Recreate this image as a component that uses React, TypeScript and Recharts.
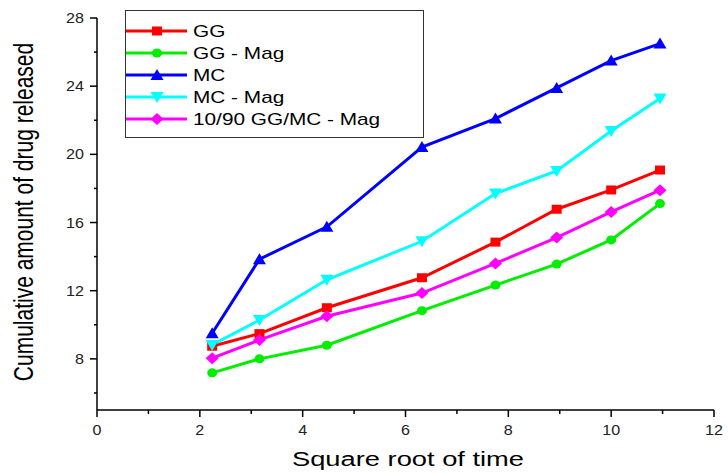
import { Label, Legend, Line, LineChart, XAxis, YAxis } from "recharts";

// square root of time for each sampling point
const rootTime = [2.24, 3.16, 4.47, 6.32, 7.75, 8.94, 10, 10.95];

const gg = [8.74, 9.48, 11.0, 12.76, 14.85, 16.78, 17.91, 19.08];
const ggMag = [7.18, 8.0, 8.8, 10.83, 12.33, 13.56, 14.98, 17.11];
const mc = [9.5, 13.85, 15.75, 20.43, 22.1, 23.9, 25.5, 26.5];
const mcMag = [8.82, 10.28, 12.64, 14.9, 17.7, 19.03, 21.37, 23.28];
const blendMag = [8.04, 9.11, 10.5, 11.86, 13.6, 15.12, 16.62, 17.9];

const xTicks = [0, 1, 2, 3, 4, 5, 6, 7, 8, 9, 10, 11, 12];
const yTicks = [6, 8, 10, 12, 14, 16, 18, 20, 22, 24, 26, 28];

const series = [
  { key: "gg", name: "GG", color: "#ff0000", shape: "square", values: gg },
  { key: "ggMag", name: "GG - Mag", color: "#00ee00", shape: "circle", values: ggMag },
  { key: "mc", name: "MC", color: "#0000ff", shape: "up", values: mc },
  { key: "mcMag", name: "MC - Mag", color: "#00ffff", shape: "down", values: mcMag },
  { key: "blendMag", name: "10/90 GG/MC - Mag", color: "#ff00ff", shape: "diamond", values: blendMag },
];

const data = rootTime.map((x, i) => {
  const row: Record<string, number> = { x };
  series.forEach((s) => (row[s.key] = s.values[i]));
  return row;
});

const FONT = "'Liberation Sans', Arial, sans-serif";

function Marker({ shape, cx, cy, color }: { shape: string; cx: number; cy: number; color: string }) {
  if (cx == null || cy == null) return null;
  switch (shape) {
    case "square":
      return <rect x={cx - 5} y={cy - 4.5} width={10} height={9} fill={color} />;
    case "circle":
      return <ellipse cx={cx} cy={cy} rx={5} ry={4.5} fill={color} />;
    case "up":
      return <polygon points={`${cx},${cy - 6} ${cx + 6.5},${cy + 5} ${cx - 6.5},${cy + 5}`} fill={color} />;
    case "down":
      return <polygon points={`${cx - 6.5},${cy - 5} ${cx + 6.5},${cy - 5} ${cx},${cy + 6}`} fill={color} />;
    default:
      return <polygon points={`${cx},${cy - 6} ${cx + 6.5},${cy} ${cx},${cy + 6} ${cx - 6.5},${cy}`} fill={color} />;
  }
}

function XTick({ x, y, payload }: any) {
  const major = payload.value % 2 === 0;
  return (
    <g>
      <line x1={x} x2={x} y1={y} y2={y + (major ? 7 : 4)} stroke="#000" strokeWidth={1.5} />
      {major && (
        <text transform={`translate(${x},${y + 25}) scale(1.15,1)`} textAnchor="middle" fontSize={14} fontFamily={FONT} fill="#222">
          {payload.value}
        </text>
      )}
    </g>
  );
}

function YTick({ x, y, payload }: any) {
  const major = payload.value % 4 === 0;
  return (
    <g>
      <line x1={x} x2={x - (major ? 7 : 3)} y1={y} y2={y} stroke="#000" strokeWidth={1.5} />
      {major && (
        <text transform={`translate(${x - 13},${y + 5}) scale(1.15,1)`} textAnchor="end" fontSize={14} fontFamily={FONT} fill="#222">
          {payload.value}
        </text>
      )}
    </g>
  );
}

// legend keeps the series order (recharts would sort it by name)
function LegendBox() {
  return (
    <svg width={300} height={129} style={{ display: "block" }}>
      <rect x={0.5} y={0.5} width={298} height={127} fill="#fff" stroke="#333" />
      {series.map((s, i) => {
        const cy = 21 + i * 22;
        return (
          <g key={s.key}>
            <line x1={1} x2={62} y1={cy} y2={cy} stroke={s.color} strokeWidth={3} />
            <Marker shape={s.shape} cx={32} cy={cy} color={s.color} />
            <text transform={`translate(68,${cy + 6}) scale(1.3,1)`} fontSize={16} fontFamily={FONT} fill="#000">
              {s.name}
            </text>
          </g>
        );
      })}
    </svg>
  );
}

export default function App() {
  return (
    <div style={{ position: "absolute", left: 0, top: 0, width: 728, height: 474, background: "#fff" }}>
      <LineChart width={728} height={474} data={data} margin={{ top: 18, right: 14, left: 0, bottom: 0 }}>
        <XAxis
          dataKey="x"
          type="number"
          domain={[0, 12]}
          ticks={xTicks}
          interval={0}
          height={64}
          tickSize={0}
          tickMargin={0}
          tickLine={false}
          tick={<XTick />}
          axisLine={{ stroke: "#000", strokeWidth: 1.5 }}
        >
          <Label
            content={() => (
              <text transform="translate(408,466) scale(1.3,1)" textAnchor="middle" fontSize={21} fontFamily={FONT} fill="#000">
                Square root of time
              </text>
            )}
          />
        </XAxis>
        <YAxis
          type="number"
          domain={[5, 28]}
          ticks={yTicks}
          interval={0}
          width={97}
          tickSize={0}
          tickMargin={0}
          tickLine={false}
          tick={<YTick />}
          axisLine={{ stroke: "#000", strokeWidth: 1.5 }}
        >
          <Label
            content={() => (
              <text transform="translate(33,212) scale(1.3,1) rotate(-90)" textAnchor="middle" fontSize={21} fontFamily={FONT} fill="#000">
                Cumulative amount of drug released
              </text>
            )}
          />
        </YAxis>
        <Legend
          layout="horizontal"
          verticalAlign="middle"
          align="center"
          content={<LegendBox />}
          wrapperStyle={{ left: 125, top: 10, width: 300, height: 129 }}
        />
        {series.map((s) => (
          <Line
            key={s.key}
            dataKey={s.key}
            name={s.name}
            stroke={s.color}
            strokeWidth={3}
            isAnimationActive={false}
            dot={(props: any) => (
              <Marker key={`${s.key}-${props.index}`} shape={s.shape} cx={props.cx} cy={props.cy} color={s.color} />
            )}
            activeDot={false}
          />
        ))}
      </LineChart>
    </div>
  );
}
